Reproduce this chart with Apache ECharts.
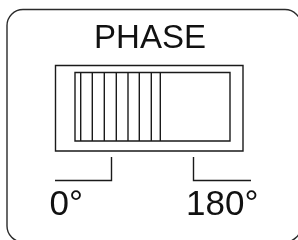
<!DOCTYPE html>
<html>
<head>
<meta charset="utf-8">
<script src="https://cdn.jsdelivr.net/npm/echarts@6/dist/echarts.min.js"></script>
<style>
html,body{margin:0;padding:0;background:#fff;}
#c{width:298px;height:240px;}
</style>
</head>
<body>
<div id="c"></div>
<script>
// Diagram geometry in canvas-sized data units (x: 0..298, y: 0..240, y downward)
var panel = [7, 9.5, 294, 232.5];            // x, y, w, h of rounded frame
var switchOuter = [55.5, 65.5, 243, 151];   // x0, y0, x1, y1
var switchInner = [75, 72.5, 230, 141];
var stripeX = [80.7, 92.3, 104.3, 116.3, 128, 139.3, 151.3, 160.3];
var bracketLeft = [[55, 180.5], [111.5, 180.5], [111.5, 157]];
var bracketRight = [[193.5, 157], [193.5, 180.5], [251, 180.5]];
var labels = ['PHASE', '0°', '180°'];
var labelPos = [[150, 39], [49.5, 205], [186, 205]];

var chart = echarts.init(document.getElementById('c'), null, {renderer: 'canvas'});
var stroke = '#1a1a1a';
var font = '"Liberation Sans", Arial, Helvetica, sans-serif';

function renderItem(params, api) {
  var kind = api.value(0);
  var ch = [];
  var c = function (x, y) { return api.coord([x, y]); };
  if (kind === 0) {
    var p0 = c(panel[0], panel[1]), p1 = c(panel[0] + panel[2], panel[1] + panel[3]);
    ch.push({type: 'rect', shape: {x: p0[0], y: p0[1], width: p1[0] - p0[0], height: p1[1] - p0[1], r: 16},
      style: {fill: 'none', stroke: '#2a2a2a', lineWidth: 1.4}});
  } else if (kind === 1) {
    [switchOuter, switchInner].forEach(function (r) {
      var a = c(r[0], r[1]), b = c(r[2], r[3]);
      ch.push({type: 'rect', shape: {x: a[0], y: a[1], width: b[0] - a[0], height: b[1] - a[1]},
        style: {fill: 'none', stroke: stroke, lineWidth: 1.4}});
    });
    stripeX.forEach(function (x) {
      var a = c(x, switchInner[1]), b = c(x, switchInner[3]);
      ch.push({type: 'line', shape: {x1: a[0], y1: a[1], x2: b[0], y2: b[1]},
        style: {stroke: stroke, lineWidth: 1.4}});
    });
  } else if (kind === 2) {
    [bracketLeft, bracketRight].forEach(function (pts) {
      ch.push({type: 'polyline', shape: {points: pts.map(function (p) { return c(p[0], p[1]); })},
        style: {fill: 'none', stroke: stroke, lineWidth: 1.4}});
    });
  } else if (kind === 3) {
    labels.forEach(function (t, i) {
      var p = c(labelPos[i][0], labelPos[i][1]);
      ch.push({type: 'text', x: p[0], y: p[1],
        style: {text: t, fill: '#111', font: (i === 0 ? 33 : 35) + 'px ' + font,
          align: i === 0 ? 'center' : 'left', verticalAlign: 'middle'}});
    });
  }
  return {type: 'group', children: ch};
}

chart.setOption({
  animation: false,
  grid: {left: 0, right: 0, top: 0, bottom: 0},
  xAxis: {type: 'value', min: 0, max: 298, show: false},
  yAxis: {type: 'value', min: 0, max: 240, inverse: true, show: false},
  series: [{
    type: 'custom',
    renderItem: renderItem,
    data: [[0], [1], [2], [3]],
    silent: true,
    clip: false
  }]
});
</script>
</body>
</html>
